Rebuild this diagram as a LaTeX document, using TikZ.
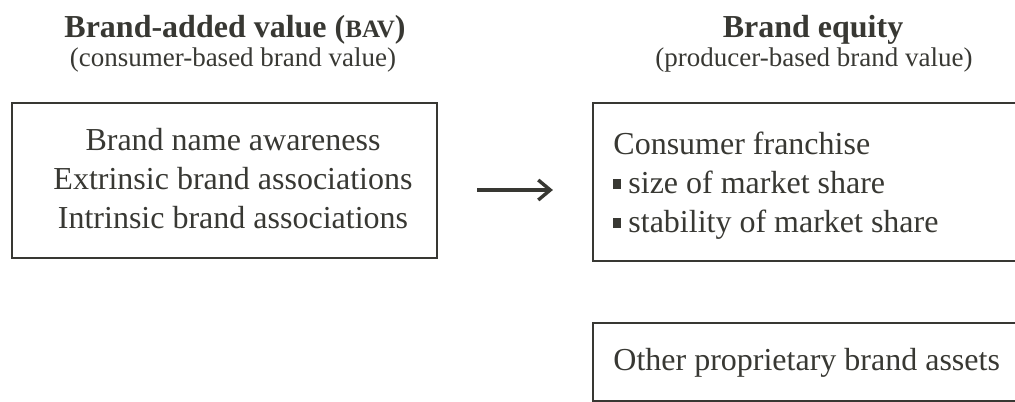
\documentclass[tikz,border=0pt]{standalone}
\usepackage{fontspec}
\setmainfont{Liberation Serif}
\usetikzlibrary{arrows.meta,positioning}
\definecolor{ink}{rgb}{0.22,0.22,0.20}
\newcommand{\sqbul}{\rule[2pt]{4pt}{5pt}\hspace{3.5pt}}

\begin{document}
\begin{tikzpicture}[x=0.5pt,y=-0.5pt,ink,
  hd/.style={font=\fontsize{16}{19.5}\selectfont\bfseries,anchor=base,inner sep=0pt},
  sub/.style={font=\fontsize{13.5}{16}\selectfont,anchor=base,inner sep=0pt},
  frame/.style={draw,line width=1.1pt,inner sep=0pt},
  body/.style={font=\fontsize{16}{19.5}\selectfont,inner sep=0pt}]
\useasboundingbox (0,0) rectangle (1015,401);
% boxes
\node[frame,minimum width=212.5pt,minimum height=77.5pt] (bav) at (224.5,180.5) {};
\node[frame,minimum width=230pt,minimum height=79pt] (cf) at (823,182) {};
\node[frame,minimum width=230pt,minimum height=39pt,below=30pt of cf] (opa) {};
% headings
\node[hd] (bavt) at (235,38) {Brand-added value ({\fontsize{12.5}{15}\selectfont BAV})};
\node[sub] (bavs) at (233,67) {(consumer-based brand value)};
\node[hd] (eqt) at (813,38) {Brand equity};
\node[sub] (eqs) at (814,67) {(producer-based brand value)};
% box contents (base = last line)
\node[body,align=center,anchor=base] (bavl) at (233,228) {Brand name awareness\\Extrinsic brand associations\\Intrinsic brand associations};
\node[body,align=left,anchor=base west] (cfl) at (613,232) {Consumer franchise\\\sqbul size of market share\\\sqbul stability of market share};
\node[body,anchor=base west] (opal) at (613,370) {Other proprietary brand assets};
% arrow
\coordinate (mid) at ([yshift=-4.75pt]bav.east);
\draw[-{Straight Barb[length=6pt,width=10pt]},line width=1.7pt,shorten <=19.5pt,shorten >=19.5pt] (mid) -- (mid -| cf.west);
\end{tikzpicture}
\end{document}
